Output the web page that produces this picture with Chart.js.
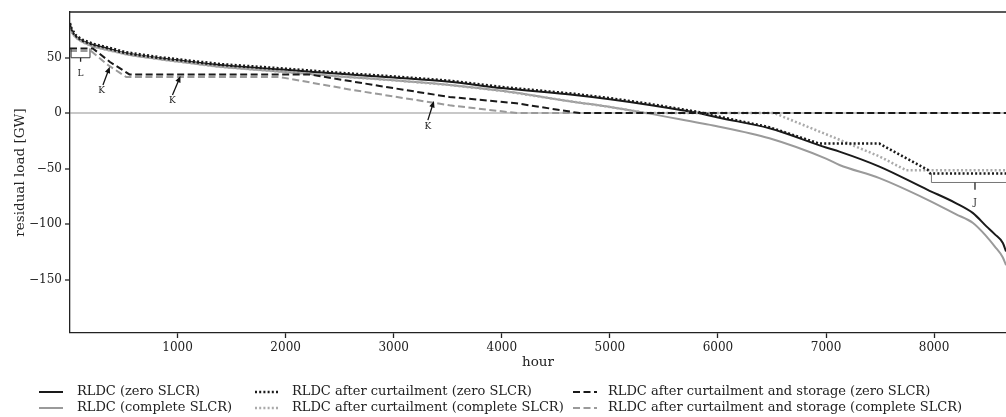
<!DOCTYPE html>
<html>
<head>
<meta charset="utf-8">
<script src="https://cdn.jsdelivr.net/npm/chart.js@4.4.1/dist/chart.umd.min.js"></script>
<style>
  html, body { margin: 0; padding: 0; background: #fff; }
</style>
</head>
<body>
<canvas id="rldc" width="1006" height="417"></canvas>
<script>
// residual load duration curves (GW)
const rldcHours = [5, 20, 60, 120, 216, 300, 525, 836, 1000, 1392, 2000, 2500, 3000, 3516, 4000, 4675, 5000, 5368, 5830, 6000, 6476, 7000, 7124, 7494, 7940, 8200, 8360, 8484, 8560, 8636, 8665];
const rldcZero = [80, 75, 69, 65, 61.5, 59.5, 53.8, 49.3, 47.5, 43.2, 39, 35.3, 32, 28.2, 22.5, 16.3, 12.5, 7.3, -0.2, -4, -13.7, -31, -34.7, -48.2, -69.1, -81, -90.1, -102, -109, -117, -124.6];
const rldcComplete = [77, 73, 68, 64, 60, 58, 53, 48.5, 46.5, 41.7, 37, 33, 29.5, 25.3, 20, 10, 5.5, -0.5, -9, -12, -22.7, -41, -46.7, -58.6, -78.1, -91, -99, -111, -120, -130, -137];

const curtHoursZero = [5, 20, 60, 120, 216, 300, 525, 836, 1000, 1392, 2000, 2500, 3000, 3516, 4000, 4675, 5000, 5368, 5830, 6000, 6476, 6940, 7494, 7940, 7965, 8665];
const curtZero = [81, 76, 70, 66, 62.5, 60.5, 54.8, 50.3, 48.5, 44.2, 40, 36.3, 33, 29.2, 23.5, 17.3, 13.5, 8.3, 0.8, -3, -12.7, -27.5, -27.5, -51, -54.5, -54.5];
const curtHoursComplete = [5, 20, 60, 120, 216, 300, 525, 836, 1000, 1392, 2000, 2500, 3000, 3516, 4000, 4675, 5000, 5340, 6520, 7124, 7494, 7741, 8665];
const curtComplete = [77, 73, 68, 64, 60, 58, 53, 48.5, 46.5, 41.7, 37, 33, 29.5, 25.3, 20, 10, 5.5, 0, 0, -24, -39, -51.5, -51.5];

const storHoursZero = [5, 216, 375, 555, 2220, 2870, 3516, 4134, 4720, 8665];
const storZero = [58.2, 58.2, 46, 34.8, 34.8, 24.4, 14.5, 8.8, 0, 0];
const storHoursComplete = [5, 200, 360, 525, 1943, 2620, 3516, 4140, 8665];
const storComplete = [55.8, 55.8, 43, 32.5, 32.5, 20.8, 7, 0, 0];

const seriesLabels = [
  "RLDC (zero SLCR)",
  "RLDC (complete SLCR)",
  "RLDC after curtailment (zero SLCR)",
  "RLDC after curtailment (complete SLCR)",
  "RLDC after curtailment and storage (zero SLCR)",
  "RLDC after curtailment and storage (complete SLCR)",
];

const xTicks = [1000, 2000, 3000, 4000, 5000, 6000, 7000, 8000];
const yTicks = [-150, -100, -50, 0, 50];

// annotations (hour, GW)
const bracketHours = [[15, 190], [7975, 8720]];
const bracketLevels = [[49.8, 58.2], [-62.5, -54]];
const bracketMidHour = [103, 8378];
const bracketMidEnd = [46.2, -69];
const bracketText = ["L", "J"];
const bracketTextLevel = [35.8, -81];
const arrowTail = [[310, 25.3], [953, 16.3], [3316, -6.3]];
const arrowTip = [[373, 41.7], [1027, 33.4], [3372, 10.9]];
const arrowText = [[298, 20], [953, 10.9], [3316, -11.8]];

const FONT = "'DejaVu Serif', serif";
const DARK = "#1a1a1a";
const GREY = "#9a9a9a";

const pts = (hs, vs) => hs.map((h, i) => ({ x: h, y: vs[i] }));

const line = (label, data, color, dash, width, order, smooth) => ({
  label,
  data,
  borderColor: color,
  backgroundColor: color,
  borderDash: dash,
  borderWidth: width,
  pointRadius: 0,
  fill: false,
  cubicInterpolationMode: smooth ? "monotone" : "default",
  tension: 0,
  order,
});

const datasets = [
  line(seriesLabels[0], pts(rldcHours, rldcZero), DARK, [], 2, 3, true),
  line(seriesLabels[1], pts(rldcHours, rldcComplete), GREY, [], 2, 4, true),
  line(seriesLabels[2], pts(curtHoursZero, curtZero), DARK, [2, 2.2], 2.5, 1, false),
  line(seriesLabels[3], pts(curtHoursComplete, curtComplete), "#aaaaaa", [2, 2.2], 2.5, 2, false),
  line(seriesLabels[4], pts(storHoursZero, storZero), DARK, [7, 3.5], 2, 1, false),
  line(seriesLabels[5], pts(storHoursComplete, storComplete), GREY, [7, 3.5], 2, 2, false),
];

const fmt = (v) => (v < 0 ? "\u2212" + Math.abs(v) : String(v));

const frameTop = {
  id: "frameTop",
  afterDraw: (chart) => {
    const { ctx, chartArea } = chart;
    ctx.save();
    ctx.strokeStyle = "#222";
    ctx.lineWidth = 1.3;
    ctx.beginPath();
    ctx.moveTo(chartArea.left, chartArea.top);
    ctx.lineTo(chartArea.right, chartArea.top);
    ctx.stroke();
    ctx.restore();
  },
};

const notes = {
  id: "notes",
  afterDatasetsDraw: (chart) => {
    const { ctx } = chart;
    const xs = chart.scales.x;
    const ys = chart.scales.y;
    const px = (h) => xs.getPixelForValue(h);
    const py = (v) => ys.getPixelForValue(v);
    ctx.save();
    ctx.font = "9px " + FONT;
    ctx.textAlign = "center";
    ctx.textBaseline = "middle";

    bracketHours.forEach((hs, i) => {
      const x0 = px(hs[0]), x1 = px(hs[1]);
      const y = py(bracketLevels[i][0]), yTop = py(bracketLevels[i][1]);
      ctx.strokeStyle = i === 0 ? "#333" : "#777";
      ctx.lineWidth = 1;
      ctx.beginPath();
      ctx.moveTo(x0, yTop);
      ctx.lineTo(x0, y);
      ctx.lineTo(x1, y);
      ctx.lineTo(x1, yTop);
      ctx.stroke();
      ctx.strokeStyle = "#222";
      ctx.lineWidth = 1.3;
      ctx.beginPath();
      ctx.moveTo(px(bracketMidHour[i]), y);
      ctx.lineTo(px(bracketMidHour[i]), py(bracketMidEnd[i]));
      ctx.stroke();
      ctx.fillStyle = "#222";
      ctx.fillText(bracketText[i], px(bracketMidHour[i]), py(bracketTextLevel[i]));
    });

    arrowTail.forEach((t, i) => {
      const x0 = px(t[0]), y0 = py(t[1]);
      const x1 = px(arrowTip[i][0]), y1 = py(arrowTip[i][1]);
      const a = Math.atan2(y1 - y0, x1 - x0);
      const head = 7;
      ctx.strokeStyle = "#111";
      ctx.fillStyle = "#111";
      ctx.lineWidth = 1.3;
      ctx.beginPath();
      ctx.moveTo(x0, y0);
      ctx.lineTo(x1 - Math.cos(a) * head * 0.8, y1 - Math.sin(a) * head * 0.8);
      ctx.stroke();
      ctx.beginPath();
      ctx.moveTo(x1, y1);
      ctx.lineTo(x1 - head * Math.cos(a - 0.4), y1 - head * Math.sin(a - 0.4));
      ctx.lineTo(x1 - head * Math.cos(a + 0.4), y1 - head * Math.sin(a + 0.4));
      ctx.closePath();
      ctx.fill();
      ctx.fillStyle = "#222";
      ctx.fillText("K", px(arrowText[i][0]), py(arrowText[i][1]));
    });
    ctx.restore();
  },
};

// legend in three columns, two rows, drawn by hand
const legendCols = [39, 255, 573];
const legendRows = [392, 408];
const legendBlock = {
  id: "legendBlock",
  afterDraw: (chart) => {
    const { ctx } = chart;
    ctx.save();
    ctx.font = "13px " + FONT;
    ctx.textBaseline = "middle";
    ctx.textAlign = "left";
    chart.data.datasets.forEach((ds, i) => {
      const x = legendCols[Math.floor(i / 2)];
      const y = legendRows[i % 2];
      ctx.strokeStyle = ds.borderColor;
      ctx.lineWidth = ds.borderWidth;
      ctx.setLineDash(ds.borderDash);
      ctx.beginPath();
      ctx.moveTo(x, y);
      ctx.lineTo(x + 24, y);
      ctx.stroke();
      ctx.setLineDash([]);
      ctx.fillStyle = "#222";
      ctx.fillText(ds.label, x + (i < 2 ? 38 : i < 4 ? 37 : 35), y);
    });
    ctx.restore();
  },
};

new Chart(document.getElementById("rldc"), {
  type: "line",
  data: { datasets },
  options: {
    responsive: false,
    animation: false,
    devicePixelRatio: 1,
    layout: { padding: { top: 12, right: 0, bottom: 44, left: 0 } },
    plugins: { legend: { display: false }, tooltip: { enabled: false } },
    scales: {
      x: {
        type: "linear",
        min: 5,
        max: 8665,
        afterBuildTicks: (s) => { s.ticks = xTicks.map((v) => ({ value: v })); },
        afterFit: (s) => { s.height = 40; },
        grid: { drawOnChartArea: false, tickLength: 5, tickColor: "#222", tickWidth: 1.3 },
        border: { color: "#222", width: 1.3 },
        ticks: { font: { family: FONT, size: 12 }, color: "#222", padding: 3, maxRotation: 0, callback: (v) => fmt(v) },
        title: { display: true, text: "hour", font: { family: FONT, size: 13.5 }, color: "#222", padding: { top: 0, bottom: 2 } },
      },
      y: {
        type: "linear",
        min: -198,
        max: 91,
        afterBuildTicks: (s) => { s.ticks = yTicks.map((v) => ({ value: v })); },
        afterFit: (s) => { s.width = 70; },
        grid: {
          drawOnChartArea: true,
          color: (c) => (c.tick && c.tick.value === 0 ? "#c8c8c8" : "rgba(0,0,0,0)"),
          lineWidth: (c) => (c.tick && c.tick.value === 0 ? 2 : 0),
          tickLength: 5,
          tickColor: "#222",
          tickWidth: 1.3,
        },
        border: { color: "#222", width: 1.3 },
        ticks: { font: { family: FONT, size: 12 }, color: "#222", padding: 3, callback: (v) => fmt(v) },
        title: { display: true, text: "residual load [GW]", font: { family: FONT, size: 13.5 }, color: "#222", padding: { top: 12, bottom: 0 } },
      },
    },
  },
  plugins: [frameTop, notes, legendBlock],
});
</script>
</body>
</html>
